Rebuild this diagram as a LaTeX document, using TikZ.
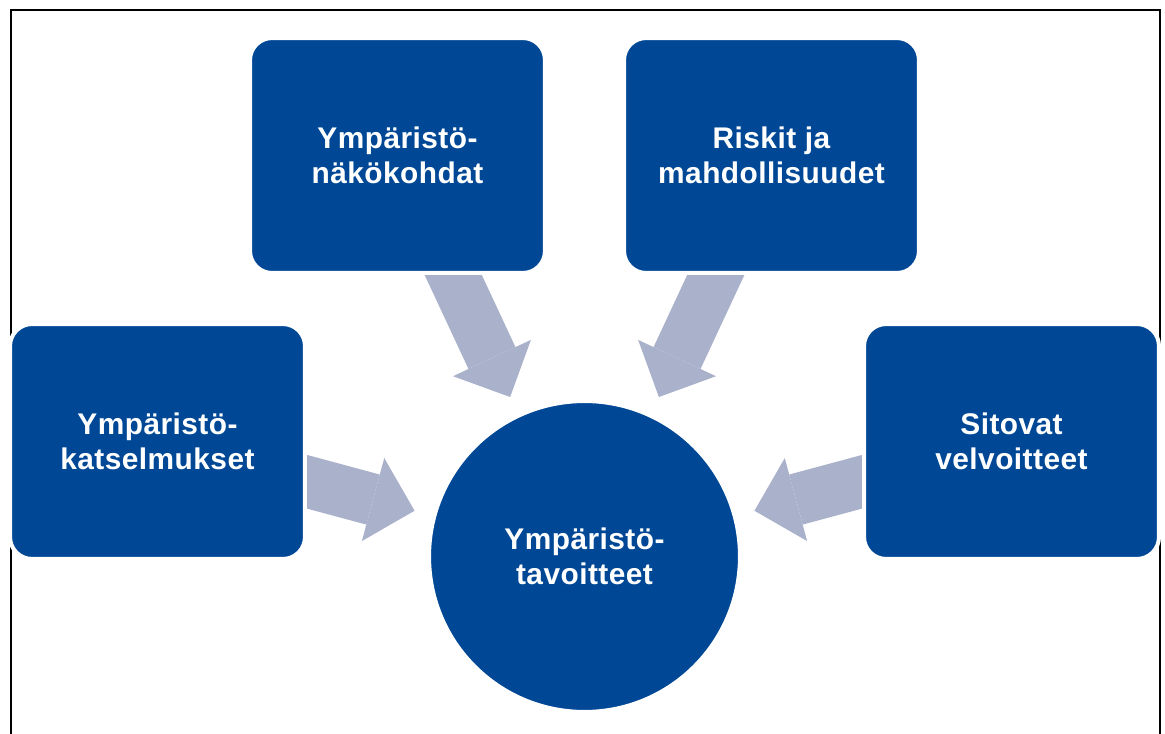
\documentclass[tikz,border=0pt]{standalone}
\usepackage{fontspec}
\setmainfont{Liberation Sans}[LetterSpace=1.5]
\usetikzlibrary{arrows.meta,backgrounds}
\definecolor{tummansininen}{RGB}{0,72,150}
\definecolor{harmaansininen}{RGB}{170,177,202}
\begin{document}
\begin{tikzpicture}[x=0.02cm, y=-0.02cm,
    laatikko/.style={rectangle, rounded corners=0.44cm, fill=tummansininen, draw=white, line width=2.3pt,
        minimum width=5.9cm, minimum height=4.7cm, text=white, align=center,
        font=\bfseries\fontsize{17}{19.8}\selectfont},
    ympyra/.style={laatikko, circle, minimum size=6.22cm},
    nuoli/.style={harmaansininen, line width=29.5pt, shorten >=0.37cm,
        -{Triangle[length=0.86cm, width=1.72cm, line width=0pt]}}]
    \useasboundingbox (0,0) rectangle (1165,733);
    \draw[line width=1.2pt] (11,740) -- (11,10) -- (1160,10) -- (1160,740); % kehys
    \node[ympyra] (tavoitteet) at (584.5,556.5) {Ympäristö-\\tavoitteet};
    \node[laatikko] (nakokohdat) at (397.5,155.5) {Ympäristö-\\näkökohdat};
    \node[laatikko] (riskit) at (771.5,155.5) {Riskit ja\\mahdollisuudet};
    \node[laatikko] (katselmukset) at (157.5,441.5) {Ympäristö-\\katselmukset};
    \node[laatikko] (velvoitteet) at (1011.5,441.5) {Sitovat\\velvoitteet};
    \begin{scope}[on background layer]
        \foreach \n in {nakokohdat,riskit,katselmukset,velvoitteet}
            \draw[nuoli] (\n.center) -- (tavoitteet);
    \end{scope}
\end{tikzpicture}
\end{document}
